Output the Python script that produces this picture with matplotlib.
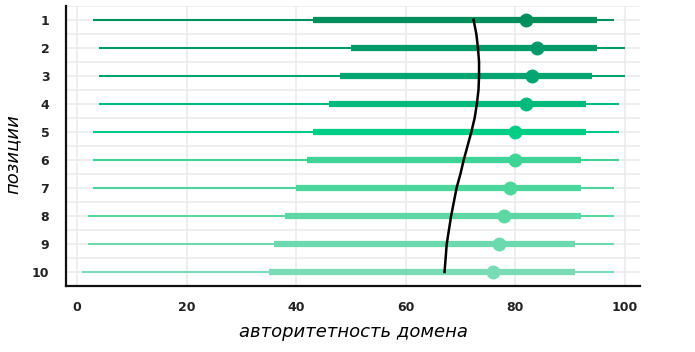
import numpy as np
import matplotlib.pyplot as plt

# positions 1..10
positions = [1, 2, 3, 4, 5, 6, 7, 8, 9, 10]
low = [3, 4, 4, 4, 3, 3, 3, 2, 2, 1]
q_low = [43, 50, 48, 46, 43, 42, 40, 38, 36, 35]
median = [82, 84, 83, 82, 80, 80, 79, 78, 77, 76]
q_high = [95, 95, 94, 93, 93, 92, 92, 92, 91, 91]
high = [98, 100, 100, 99, 99, 99, 98, 98, 98, 98]
colors = ["#008f5d", "#009a69", "#00a571", "#00b97a", "#00cd86",
          "#3dd496", "#4bd69c", "#5dd8a5", "#6bdaae", "#7adcb7"]

# trend curve
curve_pos = [1, 1.5, 2, 2.5, 3, 3.5, 4, 4.5, 5, 5.5, 6, 6.5, 7, 7.5, 8, 8.5, 9, 9.5, 10]
curve_val = [72.4, 72.9, 73.2, 73.4, 73.4, 73.3, 73.0, 72.6, 72.0, 71.3,
             70.6, 70.0, 69.3, 68.8, 68.3, 67.9, 67.5, 67.3, 67.1]

fig = plt.figure(figsize=(6.95, 3.52), dpi=100)
ax = fig.add_axes([0.095, 0.1875, 0.826, 0.796])

for i, p in enumerate(positions):
    ax.plot([low[i], high[i]], [p, p], color=colors[i], linewidth=1.5,
            solid_capstyle="butt", zorder=3)
    ax.plot([q_low[i], q_high[i]], [p, p], color=colors[i], linewidth=4.5,
            solid_capstyle="butt", zorder=4)
    ax.plot(median[i], p, "o", color=colors[i], markersize=9, zorder=5)

ax.plot(curve_val, curve_pos, color="black", linewidth=1.8, zorder=6)

ax.set_xlim(-2, 102.8)
ax.set_ylim(10.5, 0.5)
ax.set_xticks([0, 20, 40, 60, 80, 100])
ax.set_yticks(positions)
ax.set_yticks(np.arange(0.5, 11, 1), minor=True)
ax.grid(True, which="major", color="#ebebeb", linewidth=1.2, zorder=0)
ax.grid(True, which="minor", axis="y", color="#ebebeb", linewidth=1.2, zorder=0)
ax.set_axisbelow(True)

for side in ["top", "right"]:
    ax.spines[side].set_visible(False)
for side in ["left", "bottom"]:
    ax.spines[side].set_linewidth(1.6)
    ax.spines[side].set_color("#111111")

ax.tick_params(which="both", length=0)
ax.tick_params(axis="y", pad=12)
ax.tick_params(axis="x", pad=11)
for lbl in ax.get_xticklabels() + ax.get_yticklabels():
    lbl.set_fontweight("bold")
    lbl.set_fontsize(9)
    lbl.set_color("#222222")

ax.set_xlabel("авторитетность домена", fontsize=13, style="italic", labelpad=6)
ax.set_ylabel("позиции", fontsize=13, style="italic")
ax.yaxis.set_label_coords(-0.078, 0.47)

fig.savefig("out.png", dpi=100)
